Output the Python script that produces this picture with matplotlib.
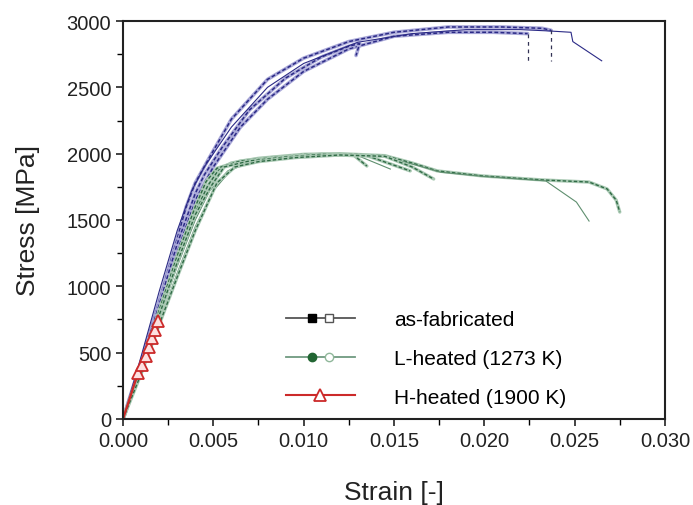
import matplotlib
matplotlib.use("Agg")
import matplotlib.pyplot as plt
from matplotlib.lines import Line2D
from matplotlib.legend_handler import HandlerTuple, HandlerLine2D
from matplotlib.ticker import AutoMinorLocator, MultipleLocator

plt.rcParams['font.family'] = ['Liberation Sans', 'DejaVu Sans']

# as-fabricated curves (strain, stress MPa)
af1_x = [0, 0.001, 0.002, 0.003, 0.0035, 0.004, 0.0048, 0.006, 0.008, 0.010, 0.0125, 0.015, 0.018, 0.021, 0.0232, 0.0237]
af1_y = [0, 430, 890, 1360, 1600, 1780, 1975, 2260, 2560, 2720, 2845, 2915, 2955, 2955, 2945, 2930]
af2_x = [0, 0.001, 0.002, 0.003, 0.004, 0.005, 0.0065, 0.008, 0.010, 0.0125, 0.015, 0.018, 0.0205, 0.0224]
af2_y = [0, 400, 830, 1280, 1650, 1900, 2200, 2410, 2620, 2790, 2885, 2915, 2915, 2905]
af3_x = [0, 0.001, 0.002, 0.003, 0.004, 0.0045, 0.0055, 0.007, 0.009, 0.011, 0.0125, 0.0131, 0.0129]
af3_y = [0, 420, 860, 1320, 1700, 1840, 2050, 2330, 2570, 2730, 2810, 2830, 2740]
af4_x = [0, 0.001, 0.002, 0.003, 0.0038, 0.0045, 0.006, 0.008, 0.010, 0.013, 0.016, 0.019, 0.022, 0.0236, 0.0248, 0.0249, 0.0265]
af4_y = [0, 470, 960, 1420, 1720, 1900, 2200, 2500, 2680, 2840, 2905, 2935, 2935, 2925, 2915, 2845, 2700]
# vertical fracture drops (dashed)
drop_x = [0.0224, 0.0237]
drop_top = [2905, 2930]
drop_bottom = [2700, 2700]

# L-heated (1273 K) curves
lh1_x = [0, 0.001, 0.002, 0.003, 0.004, 0.0047, 0.0053, 0.006, 0.0075, 0.010, 0.012, 0.0145, 0.016, 0.0174, 0.0199, 0.0232, 0.0258, 0.0268, 0.0273, 0.0275]
lh1_y = [0, 380, 800, 1200, 1560, 1760, 1880, 1930, 1965, 1995, 2000, 1985, 1930, 1870, 1832, 1802, 1786, 1734, 1650, 1560]
lh2_x = [0, 0.001, 0.002, 0.003, 0.004, 0.0048, 0.0058, 0.0065, 0.008, 0.010, 0.012, 0.0145, 0.0162, 0.0176, 0.020, 0.0234, 0.0251, 0.0258]
lh2_y = [0, 360, 760, 1150, 1500, 1720, 1870, 1920, 1960, 1990, 1995, 1975, 1915, 1860, 1828, 1795, 1635, 1492]
lh3_x = [0, 0.001, 0.002, 0.003, 0.004, 0.0046, 0.0052, 0.0065, 0.0085, 0.011, 0.0128, 0.0135]
lh3_y = [0, 390, 820, 1230, 1600, 1790, 1890, 1945, 1975, 1995, 1985, 1907]
lh4_x = [0, 0.001, 0.002, 0.003, 0.004, 0.005, 0.006, 0.007, 0.009, 0.011, 0.013, 0.0148]
lh4_y = [0, 350, 730, 1100, 1450, 1720, 1880, 1930, 1965, 1990, 1985, 1884]
lh5_x = [0, 0.001, 0.002, 0.003, 0.004, 0.0049, 0.0056, 0.007, 0.009, 0.011, 0.0135, 0.0159]
lh5_y = [0, 370, 780, 1180, 1540, 1760, 1900, 1945, 1975, 1995, 1985, 1870]
lh6_x = [0, 0.001, 0.002, 0.003, 0.004, 0.0052, 0.0062, 0.0075, 0.0095, 0.012, 0.0145, 0.016, 0.0172]
lh6_y = [0, 340, 710, 1070, 1420, 1780, 1900, 1940, 1970, 1990, 1980, 1900, 1809]

# H-heated (1900 K)
hh_x = [0, 0.00083, 0.00105, 0.0013, 0.00144, 0.0016, 0.00177, 0.00194]
hh_y = [0, 347, 407, 475, 543, 610, 671, 739]

labels = ['as-fabricated', 'L-heated (1273 K)', 'H-heated (1900 K)']

fig = plt.figure(figsize=(6.93, 5.06), dpi=100)
ax = fig.add_axes([0.1775, 0.17, 0.782, 0.7865])

blue_dark = '#2b2a86'
blue_light = '#a9a8d8'
green_dark = '#2f6a45'
green_light = '#a9c9b3'

af_curves = [(af1_x, af1_y), (af2_x, af2_y), (af3_x, af3_y), (af4_x, af4_y)]
for i, (x, y) in enumerate(af_curves):
    if i == 3:
        ax.plot(x, y, color=blue_dark, lw=0.8)
        continue
    ax.plot(x, y, color=blue_light, lw=2.6, solid_capstyle='round')
    ax.plot(x, y, color=blue_dark, lw=1.1, dashes=(2.5, 1.5))
for xd, yt, yb in zip(drop_x, drop_top, drop_bottom):
    ax.plot([xd, xd], [yt, yb], color='#333355', lw=0.9, dashes=(3, 3))

lh_curves = [(lh1_x, lh1_y), (lh2_x, lh2_y), (lh3_x, lh3_y), (lh4_x, lh4_y), (lh5_x, lh5_y), (lh6_x, lh6_y)]
for i, (x, y) in enumerate(lh_curves):
    if i in (1, 3):
        ax.plot(x, y, color='#5f8f6f', lw=0.8)
        continue
    ax.plot(x, y, color=green_light, lw=2.4, solid_capstyle='round')
    ax.plot(x, y, color=green_dark, lw=1.0, dashes=(2.5, 1.5))

ax.plot(hh_x, hh_y, color='#cc2a2a', lw=1.7, marker='^', markersize=8,
        markerfacecolor='#fde0e0', markeredgecolor='#cc2a2a', markeredgewidth=1.3,
        markevery=list(range(1, len(hh_x))))

ax.set_xlim(0, 0.03)
ax.set_ylim(0, 3000)
ax.xaxis.set_major_locator(MultipleLocator(0.005))
ax.yaxis.set_major_locator(MultipleLocator(500))
ax.xaxis.set_minor_locator(AutoMinorLocator(2))
ax.yaxis.set_minor_locator(AutoMinorLocator(2))
ax.set_xticklabels(['%.3f' % v for v in ax.get_xticks()])
ax.tick_params(which='major', direction='out', length=5, width=1.2, labelsize=14.5, colors='#222222')
ax.tick_params(which='minor', direction='out', length=4, width=1.0)
for s in ax.spines.values():
    s.set_linewidth(1.5)
    s.set_color('#222222')

ax.set_xlabel('Strain [-]', fontsize=19, labelpad=22, color='#222222')
ax.set_ylabel('Stress [MPa]', fontsize=19, labelpad=19, color='#222222')


def keep_markevery(legend_handle, orig_handle):
    legend_handle.update_from(orig_handle)
    legend_handle.set_markevery(orig_handle.get_markevery())


# legend handles
af_line = Line2D([], [], color='#555555', lw=1.3)
af_fill = Line2D([], [], ls='none', marker='s', ms=6, color='black', markevery=[3])
af_open = Line2D([], [], ls='none', marker='s', ms=6, mfc='white', mec='#555555', markevery=[5])
lh_line = Line2D([], [], color='#6f9a80', lw=1.3)
lh_fill = Line2D([], [], ls='none', marker='o', ms=6, color='#226633', markevery=[3])
lh_open = Line2D([], [], ls='none', marker='o', ms=6, mfc='white', mec='#8fb79a', markevery=[5])
hh_line = Line2D([], [], color='#cc2a2a', lw=1.5)
hh_mark = Line2D([], [], ls='none', marker='^', ms=8, mfc='white', mec='#cc2a2a', mew=1.3, markevery=[4])

hmap = {tuple: HandlerTuple(ndivide=1)}
for h in (af_fill, af_open, lh_fill, lh_open, hh_mark):
    hmap[h] = HandlerLine2D(update_func=keep_markevery)

ax.legend([(af_line, af_fill, af_open), (lh_line, lh_fill, lh_open), (hh_line, hh_mark)], labels,
          handler_map=hmap, numpoints=9,
          loc='upper left', bbox_to_anchor=(0.27, 0.30), frameon=False, fontsize=15,
          handlelength=3.9, handletextpad=1.6, labelspacing=0.95, borderpad=0)

fig.savefig('out.png', dpi=100)
